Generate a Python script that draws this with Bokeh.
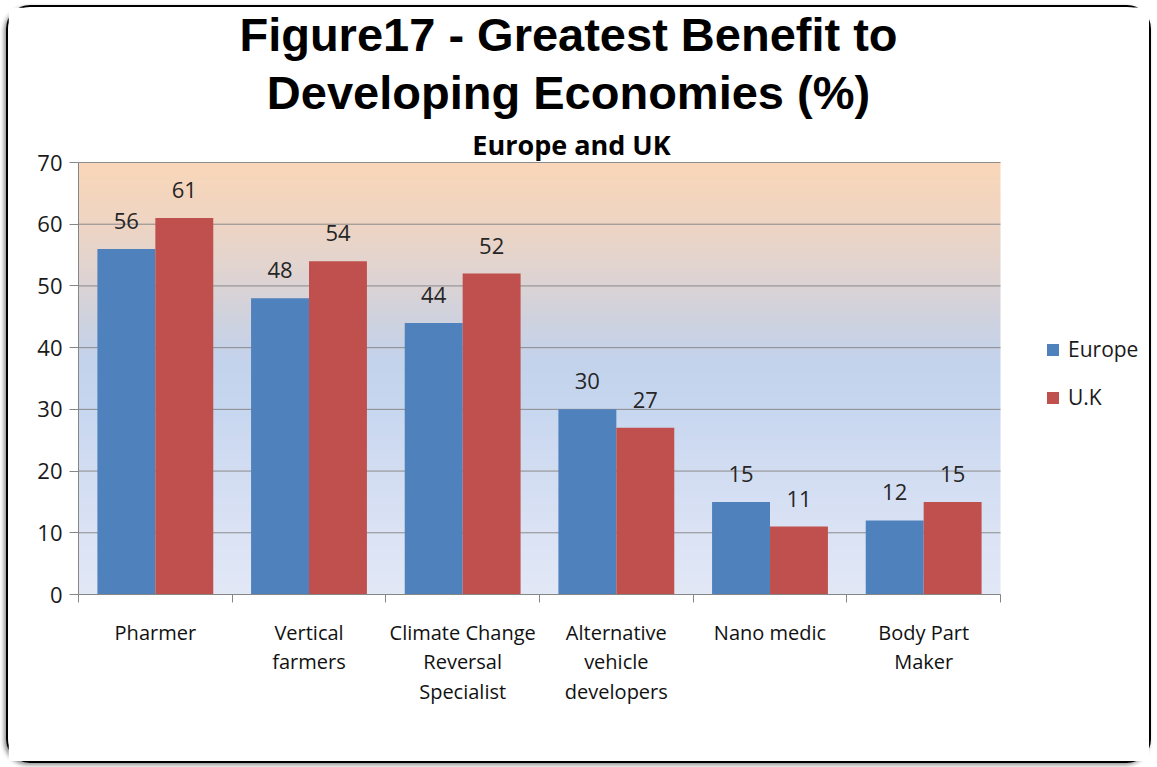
import numpy as np
from bokeh.plotting import figure
from bokeh.models import (ColumnDataSource, FixedTicker, Label, Legend, LegendItem, Range1d)
from bokeh.transform import dodge
from bokeh.core.properties import value
from bokeh.embed import file_html
from bokeh.resources import INLINE

# ---- data ----
categories = ["Pharmer", "Vertical\nfarmers", "Climate Change\nReversal\nSpecialist",
              "Alternative\nvehicle\ndevelopers", "Nano medic", "Body Part\nMaker"]
europe = [56, 48, 44, 30, 15, 12]
uk = [61, 54, 52, 27, 11, 15]
series_names = ["Europe", "U.K"]
y_ticks = [0, 10, 20, 30, 40, 50, 60, 70]
y_max = 70

title_lines = ["Figure17 - Greatest Benefit to", "Developing Economies (%)"]
subtitle = "Europe and UK"

BLUE = "#4f81bd"
RED = "#c0504d"
FONT = "Open Sans"

n = len(categories)
centers = [i + 0.5 for i in range(n)]
src = ColumnDataSource(dict(x=centers, europe=europe, uk=uk,
                            elab=[str(v) for v in europe], ulab=[str(v) for v in uk]))

# ---- layout geometry (page pixels) ----
ML, MT, BORDER = 6, 5, 2
W, H = 1145, 758
ox, oy = ML + BORDER, MT + BORDER          # canvas origin on the page
plot_left, plot_right = 78, 1000           # x = 0 .. n
plot_top, plot_bottom = 162, 594           # y = y_max .. 0
px_x = (plot_right - plot_left) / n
px_y = (plot_bottom - plot_top) / y_max
x_hi = (ox + W - plot_left) / px_x
y_hi = (plot_bottom - oy) / px_y

def dx(page_x):
    return (page_x - plot_left) / px_x

def dy(page_y):
    return (plot_bottom - page_y) / px_y

p = figure(width=W, height=H, output_backend="svg", toolbar_location=None,
           x_range=Range1d(0, x_hi), y_range=Range1d(0, y_hi),
           min_border_left=plot_left - ox, min_border_right=0, min_border_top=0,
           min_border_bottom=oy + H - plot_bottom)
p.styles = {"border": f"{BORDER}px solid #000", "border-radius": "24px",
            "margin-left": f"{ML}px", "margin-top": f"{MT}px",
            "box-shadow": "-2px 2px 4px rgba(0,0,0,0.45)"}
p.outline_line_color = None
p.background_fill_color = "white"
p.border_fill_color = "white"

# ---- gradient background (decoration) ----
stops_v = [0, 10, 20, 30, 38, 45, 52, 60, 70]
stops_c = [(226, 232, 246), (219, 227, 245), (210, 221, 242), (200, 215, 240), (196, 211, 236),
           (208, 210, 222), (224, 212, 210), (238, 213, 196), (250, 215, 185)]
N = 280
yy = np.linspace(0, y_max, N)
img = np.empty((N, 1), dtype=np.uint32)
view = img.view(dtype=np.uint8).reshape((N, 1, 4))
for k in range(3):
    view[:, 0, k] = np.interp(yy, stops_v, [c[k] for c in stops_c]).astype(np.uint8)
view[:, 0, 3] = 255
p.image_rgba(image=[img], x=0, y=0, dw=n, dh=y_max, level="image")

# horizontal gridlines limited to the plot area
p.segment(x0=[0] * len(y_ticks), x1=[n] * len(y_ticks), y0=y_ticks, y1=y_ticks,
          line_color="#8a8a8a", line_width=1, level="underlay")
p.xgrid.grid_line_color = None
p.ygrid.grid_line_color = None

# ---- bars ----
bw = 0.377
off = 0.1885
r1 = p.vbar(x=dodge("x", -off, range=p.x_range), top="europe", width=bw, source=src,
            fill_color=BLUE, line_color=None)
r2 = p.vbar(x=dodge("x", off, range=p.x_range), top="uk", width=bw, source=src,
            fill_color=RED, line_color=None)

# data labels
for field, lab, o in (("europe", "elab", -off), ("uk", "ulab", off)):
    p.text(x=dodge("x", o, range=p.x_range), y=field, text=lab, source=src,
           text_align="center", text_baseline="alphabetic", y_offset=-28,
           text_font=value(FONT), text_font_size="22px", text_color="#262626")

# ---- axes ----
p.yaxis.ticker = FixedTicker(ticks=y_ticks)
p.yaxis.bounds = (0, y_max)
p.yaxis.axis_line_color = "#868686"
p.yaxis.major_tick_line_color = "#868686"
p.yaxis.major_tick_out = 9
p.yaxis.major_tick_in = 0
p.yaxis.minor_tick_line_color = None
p.yaxis.major_label_standoff = 7
p.yaxis.major_label_text_font = FONT
p.yaxis.major_label_text_font_size = "22px"
p.yaxis.major_label_text_color = "#1a1a1a"

p.xaxis.ticker = FixedTicker(ticks=centers, minor_ticks=list(range(n + 1)))
p.xaxis.bounds = (0, n)
p.xaxis.major_label_overrides = {c: lab for c, lab in zip(centers, categories)}
p.xaxis.axis_line_color = "#868686"
p.xaxis.major_tick_line_color = None
p.xaxis.major_tick_out = 8
p.xaxis.major_tick_in = 0
p.xaxis.minor_tick_line_color = "#868686"
p.xaxis.minor_tick_out = 8
p.xaxis.minor_tick_in = 0
p.xaxis.major_label_standoff = 16
p.xaxis.major_label_text_font = FONT
p.xaxis.major_label_text_font_size = "20px"
p.xaxis.major_label_text_color = "#111111"
p.xaxis.major_label_text_line_height = 1.1

# ---- titles ----
tx = dx(568)
for txt, py in ((title_lines[0], 52 - 18), (title_lines[1], 110 - 18)):
    p.add_layout(Label(x=tx, y=dy(py), text=txt,
                       text_align="center", text_baseline="alphabetic",
                       text_font="Liberation Sans", text_font_style="bold",
                       text_font_size="47px", text_color="black"))
p.add_layout(Label(x=dx(571), y=dy(156 - 12), text=subtitle,
                   text_align="center", text_baseline="alphabetic",
                   text_font=FONT, text_font_style="bold",
                   text_font_size="27px", text_color="black"))

# ---- legend ----
legend = Legend(items=[LegendItem(label=series_names[0], renderers=[r1]),
                       LegendItem(label=series_names[1], renderers=[r2])],
                location=(1045 - plot_left, plot_bottom - 411), orientation="vertical",
                glyph_width=15, glyph_height=15, label_height=20, spacing=20,
                label_standoff=8, padding=0, margin=0,
                border_line_color=None, background_fill_alpha=0,
                label_text_font=FONT, label_text_font_size="21px", label_text_color="#1a1a1a")
p.add_layout(legend)

open("out.html", "w").write(file_html(p, INLINE))
